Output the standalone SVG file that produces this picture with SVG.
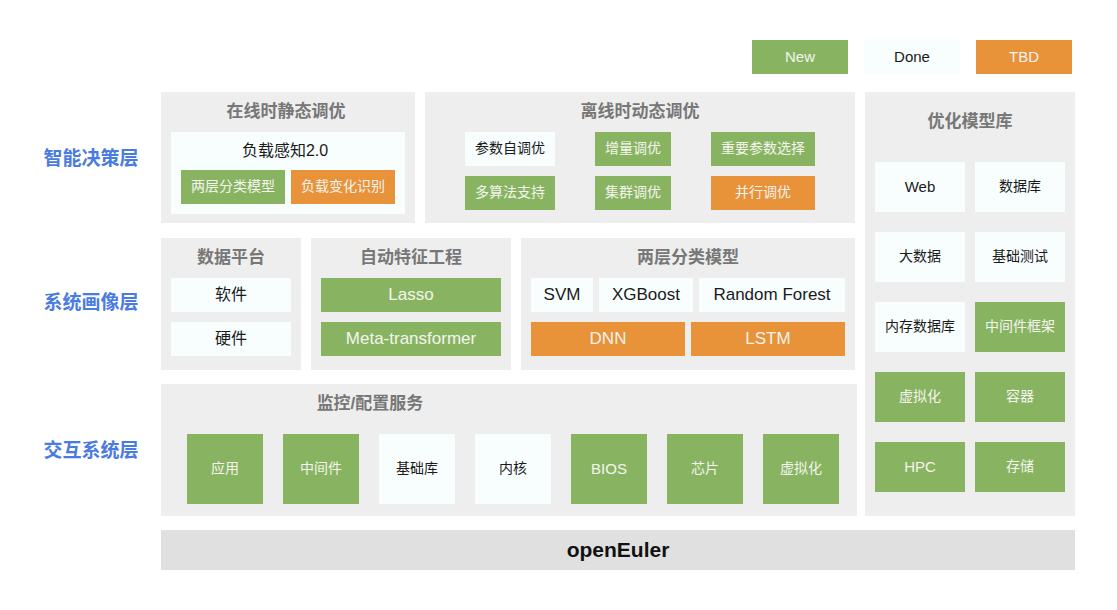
<svg xmlns="http://www.w3.org/2000/svg" width="1117" height="610" viewBox="0 0 1117 610">
<style>
text{font-family:"Liberation Sans","Noto Sans CJK SC",sans-serif;text-anchor:middle;dominant-baseline:central}
.panel{fill:#eeeeee}
.g{fill:#88b462}
.o{fill:#e8923a}
.w{fill:#f8fefe}
.t{font-size:17px;font-weight:bold;fill:#777777}
.lt{font-size:14px;fill:#f4f4ee}
.dt{font-size:14px;fill:#1a1a1a}
.lb{font-size:17px;fill:#f4f4ee}
.db{font-size:17px;fill:#1a1a1a}
.en{font-size:15px}
.layer{font-size:19px;font-weight:bold;fill:#4a7be0}
</style>
<rect width="1117" height="610" fill="#ffffff"/>
<g id="legend">
<rect class="g" x="752" y="40" width="96" height="34"/><text class="lb" x="800" y="56" style="font-size:15px">New</text>
<rect class="w" x="864" y="40" width="96" height="34"/><text class="db" x="912" y="56" style="font-size:15px">Done</text>
<rect class="o" x="976" y="40" width="96" height="34"/><text class="lb" x="1024" y="56" style="font-size:15px">TBD</text>
</g>
<g id="layers">
<text class="layer" x="91" y="158">智能决策层</text>
<text class="layer" x="91" y="302">系统画像层</text>
<text class="layer" x="91" y="450">交互系统层</text>
</g>
<g id="online">
<rect class="panel" x="161" y="92" width="254" height="131"/>
<text class="t" x="286" y="111">在线时静态调优</text>
<rect class="w" x="171" y="132" width="234" height="82"/>
<text class="db" x="285" y="150" style="font-size:16px">负载感知2.0</text>
<rect class="g" x="181" y="170" width="104" height="34"/><text class="lt" x="233" y="186">两层分类模型</text>
<rect class="o" x="291" y="170" width="104" height="34"/><text class="lt" x="343" y="186">负载变化识别</text>
</g>
<g id="offline">
<rect class="panel" x="425" y="92" width="430" height="131"/>
<text class="t" x="640" y="111">离线时动态调优</text>
<rect class="w" x="465" y="132" width="90" height="34"/><text class="dt" x="510" y="148">参数自调优</text>
<rect class="g" x="595" y="132" width="76" height="34"/><text class="lt" x="633" y="148">增量调优</text>
<rect class="g" x="711" y="132" width="104" height="34"/><text class="lt" x="763" y="148">重要参数选择</text>
<rect class="g" x="465" y="176" width="90" height="34"/><text class="lt" x="510" y="192">多算法支持</text>
<rect class="g" x="595" y="176" width="76" height="34"/><text class="lt" x="633" y="192">集群调优</text>
<rect class="o" x="711" y="176" width="104" height="34"/><text class="lt" x="763" y="192">并行调优</text>
</g>
<g id="dataplatform">
<rect class="panel" x="161" y="238" width="140" height="132"/>
<text class="t" x="231" y="257">数据平台</text>
<rect class="w" x="171" y="278" width="120" height="34"/><text class="db" x="231" y="294" style="font-size:16px">软件</text>
<rect class="w" x="171" y="322" width="120" height="34"/><text class="db" x="231" y="338" style="font-size:16px">硬件</text>
</g>
<g id="autofeature">
<rect class="panel" x="311" y="238" width="200" height="132"/>
<text class="t" x="411" y="257">自动特征工程</text>
<rect class="g" x="321" y="278" width="180" height="34"/><text class="lb" x="411" y="294">Lasso</text>
<rect class="g" x="321" y="322" width="180" height="34"/><text class="lb" x="411" y="338">Meta-transformer</text>
</g>
<g id="twolayer">
<rect class="panel" x="521" y="238" width="334" height="132"/>
<text class="t" x="688" y="257">两层分类模型</text>
<rect class="w" x="531" y="278" width="62" height="34"/><text class="db" x="562" y="294">SVM</text>
<rect class="w" x="599" y="278" width="94" height="34"/><text class="db" x="646" y="294">XGBoost</text>
<rect class="w" x="699" y="278" width="146" height="34"/><text class="db" x="772" y="294">Random Forest</text>
<rect class="o" x="531" y="322" width="154" height="34"/><text class="lb" x="608" y="338">DNN</text>
<rect class="o" x="691" y="322" width="154" height="34"/><text class="lb" x="768" y="338">LSTM</text>
</g>
<g id="modellib">
<rect class="panel" x="865" y="92" width="210" height="424"/>
<text class="t" x="970" y="121">优化模型库</text>
<rect class="w" x="875" y="162" width="90" height="50"/><text class="dt en" x="920" y="186">Web</text>
<rect class="w" x="975" y="162" width="90" height="50"/><text class="dt" x="1020" y="186">数据库</text>
<rect class="w" x="875" y="232" width="90" height="50"/><text class="dt" x="920" y="256">大数据</text>
<rect class="w" x="975" y="232" width="90" height="50"/><text class="dt" x="1020" y="256">基础测试</text>
<rect class="w" x="875" y="302" width="90" height="50"/><text class="dt" x="920" y="326">内存数据库</text>
<rect class="g" x="975" y="302" width="90" height="50"/><text class="lt" x="1020" y="326">中间件框架</text>
<rect class="g" x="875" y="372" width="90" height="50"/><text class="lt" x="920" y="396">虚拟化</text>
<rect class="g" x="975" y="372" width="90" height="50"/><text class="lt" x="1020" y="396">容器</text>
<rect class="g" x="875" y="442" width="90" height="50"/><text class="lt en" x="920" y="466">HPC</text>
<rect class="g" x="975" y="442" width="90" height="50"/><text class="lt" x="1020" y="466">存储</text>
</g>
<g id="monitor">
<rect class="panel" x="161" y="384" width="696" height="132"/>
<text class="t" x="370" y="403">监控/配置服务</text>
<rect class="g" x="187" y="434" width="76" height="70"/><text class="lt" x="225" y="468">应用</text>
<rect class="g" x="283" y="434" width="76" height="70"/><text class="lt" x="321" y="468">中间件</text>
<rect class="w" x="379" y="434" width="76" height="70"/><text class="dt" x="417" y="468">基础库</text>
<rect class="w" x="475" y="434" width="76" height="70"/><text class="dt" x="513" y="468">内核</text>
<rect class="g" x="571" y="434" width="76" height="70"/><text class="lt en" x="609" y="468">BIOS</text>
<rect class="g" x="667" y="434" width="76" height="70"/><text class="lt" x="705" y="468">芯片</text>
<rect class="g" x="763" y="434" width="76" height="70"/><text class="lt" x="801" y="468">虚拟化</text>
</g>
<g id="openeuler">
<rect x="161" y="530" width="914" height="40" fill="#e0e0e0"/>
<text x="618" y="549" style="font-size:21px;font-weight:bold;fill:#111111">openEuler</text>
</g>
<g id="connectors"></g>
</svg>
